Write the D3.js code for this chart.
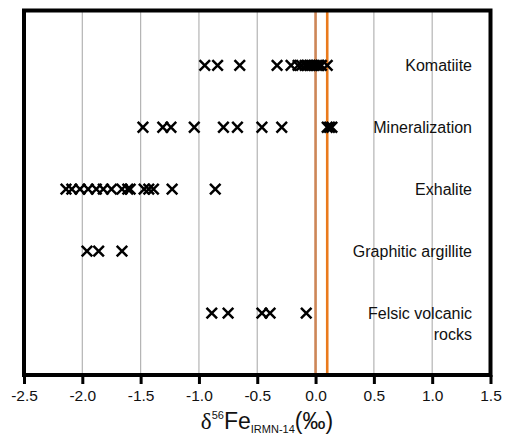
<!DOCTYPE html>
<html>
<head>
<meta charset="utf-8">
<script src="https://cdn.jsdelivr.net/npm/d3@7"></script>
<style>
  body { margin: 0; background: #fff; }
  svg text { font-family: "Liberation Sans", Arial, sans-serif; }
</style>
</head>
<body>
<div id="chart"></div>
<script>
// Chart size
var svgWidth = 512;
var svgHeight = 444;

// Plot frame edges
var frame = { left: 24, right: 490.5, top: 10.5, bottom: 375 };

// Row categories, top to bottom, with their row position
var categories = ["Komatiite", "Mineralization", "Exhalite", "Graphitic argillite", "Felsic volcanic rocks"];
var rowPos = [5, 4, 3, 2, 1];

// d56Fe values (permil)
var komatiite = [-0.95, -0.84, -0.65, -0.33, -0.21, -0.15, -0.12, -0.09, -0.07, -0.05, -0.03, -0.01, 0.01, 0.03, 0.05, 0.10];
var mineralization = [-1.48, -1.31, -1.24, -1.04, -0.79, -0.67, -0.46, -0.29, 0.10, 0.12, 0.14];
var exhalite = [-2.14, -2.09, -2.02, -1.95, -1.88, -1.82, -1.75, -1.66, -1.61, -1.59, -1.47, -1.43, -1.39, -1.23, -0.86];
var argillite = [-1.96, -1.86, -1.66];
var felsic = [-0.89, -0.75, -0.46, -0.39, -0.08];
var seriesValues = [komatiite, mineralization, exhalite, argillite, felsic];

// x ticks and the two reference lines
var xTicks = [-2.5, -2.0, -1.5, -1.0, -0.5, 0.0, 0.5, 1.0, 1.5];
var refLines = [0.0, 0.1];
var refColors = ["#cd8657", "#ea7a1c"];

var svg = d3.select("#chart")
    .append("svg")
    .attr("width", svgWidth)
    .attr("height", svgHeight);

var xScale = d3.scaleLinear()
    .domain([-2.5, 1.5])
    .range([frame.left, frame.right]);

var yScale = d3.scaleLinear()
    .domain([0, 5.885])
    .range([frame.bottom, frame.top]);

// vertical gridlines
svg.append("g").selectAll("line")
    .data(xTicks.slice(1, -1))
    .enter()
    .append("line")
    .attr("x1", d => xScale(d))
    .attr("x2", d => xScale(d))
    .attr("y1", frame.top)
    .attr("y2", frame.bottom)
    .attr("stroke", "#b4b4b4")
    .attr("stroke-width", 1.2);

// orange reference lines
svg.append("g").selectAll("line")
    .data(refLines)
    .enter()
    .append("line")
    .attr("x1", d => xScale(d))
    .attr("x2", d => xScale(d))
    .attr("y1", frame.top)
    .attr("y2", frame.bottom)
    .attr("stroke", (d, i) => refColors[i])
    .attr("stroke-width", 2.6);

// build point list
var points = [];
seriesValues.forEach(function (vals, i) {
    vals.forEach(function (v) {
        points.push({ x: v, row: rowPos[i] });
    });
});

var cross = d3.symbol().type(d3.symbolTimes).size(74);

svg.append("g").selectAll("path")
    .data(points)
    .enter()
    .append("path")
    .attr("d", cross)
    .attr("transform", d => `translate(${xScale(d.x)}, ${yScale(d.row)})`)
    .attr("fill", "none")
    .attr("stroke", "#000")
    .attr("stroke-width", 2.5);

// category labels on the right
var labels = svg.append("g")
    .selectAll("text")
    .data(categories)
    .enter()
    .append("text")
    .attr("text-anchor", "end")
    .attr("font-size", "16px")
    .attr("fill", "#111")
    .attr("y", (d, i) => yScale(rowPos[i]) + 5.5);

labels.each(function (d) {
    var t = d3.select(this);
    if (d === "Felsic volcanic rocks") {
        t.append("tspan").attr("x", 472).text("Felsic volcanic");
        t.append("tspan").attr("x", 472).attr("dy", 21.5).text("rocks");
    } else {
        t.append("tspan").attr("x", 472).text(d);
    }
});

// frame
svg.append("rect")
    .attr("x", frame.left)
    .attr("y", frame.top)
    .attr("width", frame.right - frame.left)
    .attr("height", frame.bottom - frame.top)
    .attr("fill", "none")
    .attr("stroke", "#000")
    .attr("stroke-width", 4);

// bottom axis
var bottomAxis = d3.axisBottom(xScale)
    .tickValues(xTicks)
    .tickSize(9)
    .tickSizeOuter(0)
    .tickPadding(6)
    .tickFormat(d3.format(".1f"));

var xAxis = svg.append("g")
    .attr("transform", `translate(0, ${frame.bottom})`)
    .call(bottomAxis);

xAxis.select(".domain").remove();
xAxis.selectAll(".tick line").attr("stroke", "#000").attr("stroke-width", 3);
xAxis.selectAll(".tick text")
    .attr("font-family", "'Liberation Sans', Arial, sans-serif")
    .attr("font-size", "15.5px")
    .attr("fill", "#111")
    .text(d => d3.format(".1f")(d).replace("−", "-"));

// axis title
var title = svg.append("text")
    .attr("x", 267)
    .attr("y", 429)
    .attr("text-anchor", "middle")
    .attr("font-size", "23px")
    .attr("fill", "#111");

title.append("tspan").attr("font-family", "'Liberation Serif', serif").text("δ");
title.append("tspan").attr("font-size", "11px").attr("dy", -10).text("56");
title.append("tspan").attr("dy", 10).text("Fe");
title.append("tspan").attr("font-size", "11px").attr("dy", 4).text("IRMN-14");
title.append("tspan").attr("dy", -4).text("(‰)");
</script>
</body>
</html>
